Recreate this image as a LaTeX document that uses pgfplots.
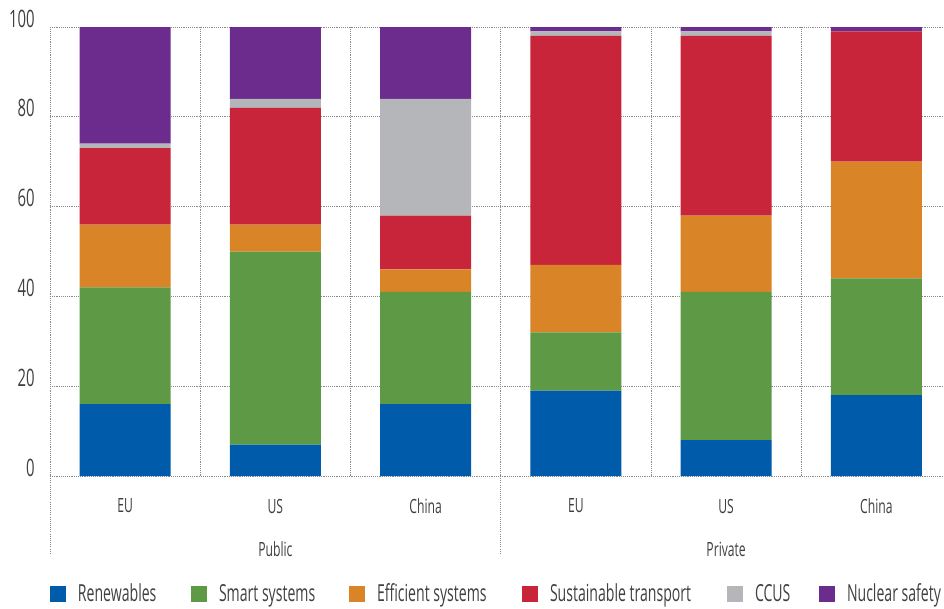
\documentclass[border=0pt]{standalone}
\usepackage{fontspec}
\setmainfont{Open Sans}[FakeStretch=0.62]
\newfontfamily\legfont{Open Sans}[FakeStretch=0.6]
\usepackage{pgfplots}
\pgfplotsset{compat=1.18}
\definecolor{cRen}{HTML}{005BAA}
\definecolor{cSma}{HTML}{5E9945}
\definecolor{cEff}{HTML}{D98427}
\definecolor{cTra}{HTML}{C8243A}
\definecolor{cCcs}{HTML}{B5B6B9}
\definecolor{cNuc}{HTML}{6C2C8E}
\definecolor{txt}{HTML}{404040}
\definecolor{grd}{HTML}{8A8A8A}
\begin{document}
\begin{tikzpicture}
\useasboundingbox (-37.5pt,-99pt) rectangle (670.5pt,357pt);
\begin{axis}[
  at={(0,0)}, anchor=south west,
  scale only axis, width=670.5pt, height=336.75pt,
  ybar stacked, bar width=0.605,
  xmin=-0.5, xmax=5.45, ymin=0, ymax=100,
  clip=false,
  axis line style={draw=none},
  xtick={0,...,5}, xticklabels={EU,US,China,EU,US,China},
  minor xtick={-0.5,0.5,1.5,2.5,3.5,4.5},
  xminorgrids, ymajorgrids,
  major tick length=0pt, minor tick length=0pt,
  grid style={densely dotted, grd, line width=0.6pt},
  ytick={0,20,...,100},
  yticklabel style={anchor=base east, inner sep=0pt, xshift=-11.25pt, font=\fontsize{18}{18}\selectfont, text=txt},
  xticklabel style={anchor=center, inner sep=0pt, yshift=-22.5pt, font=\fontsize{14.7}{15}\selectfont, text=txt},
  /pgf/number format/assume math mode=true,
  legend columns=6,
  legend style={at={(0,-0.2628)}, anchor=west, draw=none, fill=none, inner sep=0pt, outer sep=0pt,
    nodes={inner sep=0pt, anchor=west}, column sep=0pt, row sep=0pt,
    font=\legfont\fontsize{17.6}{18}\selectfont, text=txt},
  legend image code/.code={\fill[#1] (0pt,-6pt) rectangle (12pt,6pt); \path (21pt,0pt);},
]
\addplot[fill=cRen, draw=none] coordinates {(0,16) (1,7) (2,16) (3,19) (4,8) (5,18)};
\addplot[fill=cSma, draw=none] coordinates {(0,26) (1,43) (2,25) (3,13) (4,33) (5,26)};
\addplot[fill=cEff, draw=none] coordinates {(0,14) (1,6) (2,5) (3,15) (4,17) (5,26)};
\addplot[fill=cTra, draw=none] coordinates {(0,17) (1,26) (2,12) (3,51) (4,40) (5,29)};
\addplot[fill=cCcs, draw=none] coordinates {(0,1) (1,2) (2,26) (3,1) (4,1) (5,0)};
\addplot[fill=cNuc, draw=none] coordinates {(0,26) (1,16) (2,16) (3,1) (4,1) (5,1)};
\addlegendentry{\makebox[84.75pt][l]{Renewables}}
\addlegendentry{\makebox[97.5pt][l]{Smart systems}}
\addlegendentry{\makebox[108.75pt][l]{Efficient systems}}
\addlegendentry{\makebox[132.75pt][l]{Sustainable transport}}
\addlegendentry{\makebox[48pt][l]{CCUS}}
\addlegendentry{Nuclear safety}
\draw[densely dotted, grd, line width=0.6pt] (axis cs:-0.5,0) -- ([yshift=-57.75pt]axis cs:-0.5,0);
\draw[densely dotted, grd, line width=0.6pt] (axis cs:2.5,0) -- ([yshift=-57.75pt]axis cs:2.5,0);
\node[font=\fontsize{14.7}{15}\selectfont, text=txt, inner sep=0pt] at ([yshift=-54.75pt]axis cs:1,0) {Public};
\node[font=\fontsize{14.7}{15}\selectfont, text=txt, inner sep=0pt] at ([yshift=-54.75pt]axis cs:4,0) {Private};
\end{axis}
\end{tikzpicture}
\end{document}
